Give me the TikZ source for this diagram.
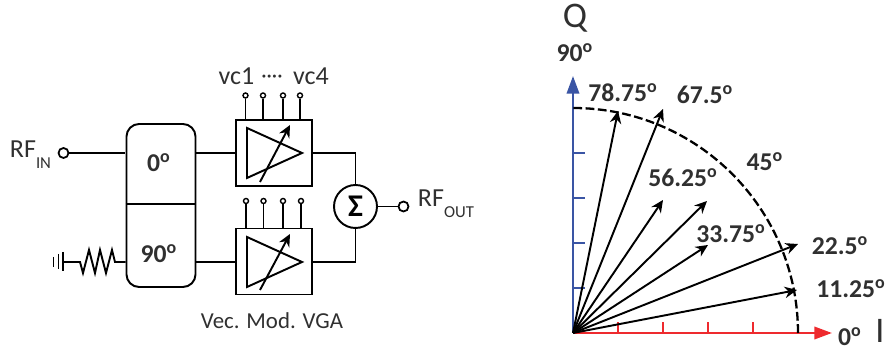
\documentclass[tikz,border=0pt]{standalone}
\usepackage{fontspec}
\setmainfont{Carlito}
\usetikzlibrary{arrows.meta}
\definecolor{txtgray}{HTML}{303030}
\definecolor{axisred}{HTML}{EE2A2E}
\definecolor{axisblue}{HTML}{3A55A4}

\begin{document}
\begin{tikzpicture}[x=0.02cm,y=-0.02cm,line width=1.1pt,>={Stealth[length=7pt,width=6.5pt]},text=txtgray]
\tikzstyle{rflabel}=[font=\fontsize{14.8}{16}\selectfont,inner sep=0pt]
\tikzstyle{deg}=[font=\fontsize{14.6}{16}\selectfont\bfseries,inner sep=0pt]
\tikzstyle{axisname}=[font=\fontsize{20.5}{22}\selectfont,inner sep=0pt]
\tikzstyle{pad}=[circle,draw,fill=white,inner sep=0pt,minimum size=0.2cm,line width=1pt]
\tikzstyle{vcpad}=[circle,draw,fill=white,inner sep=0pt,minimum size=0.1cm,line width=0.8pt]
\tikzstyle{vgabox}=[draw,inner sep=0pt,minimum width=1.52cm,minimum height=1.32cm]
\useasboundingbox (0,0) rectangle (890,350);

% splitter
\node[draw,rounded corners=0.25cm,minimum width=1.38cm,minimum height=3.26cm,inner sep=0pt] (split) at (161,205.5) {};
\draw (split.west |- 0,204) -- (split.east |- 0,204);
\node[deg] (p0) at (159,163) {0\textsuperscript{o}};
\node[deg] (p90) at (159,254) {90\textsuperscript{o}};

% input side
\node[rflabel,anchor=west] (rfin) at (9,155) {RF\raisebox{-0.9ex}{\fontsize{9.5}{10}\selectfont IN}};
\node[pad] (inpad) at (63.5,153) {};
\coordinate (splitin) at (125,153);
\draw (inpad) -- (splitin);
\coordinate (gnd) at (63,262);
\coordinate (splitq) at (split.west |- gnd);
\draw (53.5,257) -- (53.5,267) (58.5,254) -- (58.5,269) (63,252) -- (63,271);
\draw (gnd) -- (80,262) -- (83,273) -- (89,250) -- (95,273) -- (100,250) -- (106,273) -- (112,250) -- (115,262) -- (splitq);

% vga boxes
\node[vgabox] (vgai) at (274,153) {};
\node[vgabox] (vgaq) at (274,261.5) {};
\draw (247,128) -- (247,178) -- (302,153) -- cycle;
\draw (247,237) -- (247,287) -- (302,262) -- cycle;
\draw[->] (260,182) -- (290,125);
\draw[->] (260,290) -- (290,234);
\draw (split.east |- vgai) -- (vgai.west);
\draw (split.east |- 0,262) -- (vgaq.west |- 0,262);

% control pins
\node[vcpad] (ci1) at (245.5,95.5) {};
\node[vcpad] (ci2) at (263,95.5) {};
\node[vcpad] (ci3) at (283,95.5) {};
\node[vcpad] (ci4) at (300,95.5) {};
\node[vcpad] (cq1) at (246,201) {};
\node[vcpad] (cq2) at (263.5,201) {};
\node[vcpad] (cq3) at (283,201) {};
\node[vcpad] (cq4) at (301,201) {};
\draw (ci1) -- (ci1 |- vgai.north);
\draw (ci2) -- (ci2 |- vgai.north);
\draw (ci3) -- (ci3 |- vgai.north);
\draw (ci4) -- (ci4 |- vgai.north);
\draw (cq1) -- (cq1 |- vgaq.north);
\draw (cq2) -- (cq2 |- vgaq.north);
\draw (cq3) -- (cq3 |- vgaq.north);
\draw (cq4) -- (cq4 |- vgaq.north);
\node[rflabel] (vc1) at (236.5,76) {vc1};
\node[rflabel] (vc4) at (311,76) {vc4};
\node[font=\fontsize{12}{13}\selectfont,inner sep=0pt] (vcdots) at (272,79) {····};
\node[font=\fontsize{13}{14}\selectfont,inner sep=0pt] (vgatxt) at (272,321) {Vec. Mod. VGA};

% summer and output
\node[circle,draw,minimum size=0.86cm,inner sep=0pt,font=\fontsize{18}{20}\selectfont\bfseries,text=black] (sum) at (355.5,206.5) {Σ};
\node[pad] (outpad) at (403.5,206.5) {};
\node[rflabel,anchor=west] (rfout) at (417,204) {RF\raisebox{-0.9ex}{\fontsize{9.5}{10}\selectfont OUT}};
\draw (vgai.east) -| (sum.north);
\draw (vgaq.east |- 0,262) -| (sum.south);
\draw (sum) -- (outpad);

% axes
\coordinate (O) at (573,333);
\coordinate (xend) at (832,333);
\coordinate (yend) at (573,76);
\draw[axisred,line width=1.4pt,->,>={Triangle[length=10pt,width=7pt]}] (O) -- (xend);
\draw[axisblue,line width=1.4pt,->,>={Triangle[length=10pt,width=7pt]}] (O) -- (yend);
\draw[axisred] (618,333) -- (618,322) (663,333) -- (663,322) (708,333) -- (708,322) (753,333) -- (753,322);
\draw[axisblue] (573,288) -- (585,288) (573,243) -- (585,243) (573,198) -- (585,198) (573,153) -- (585,153);
\draw[line width=1.3pt,dash pattern=on 5pt off 2pt,black] (798,333) arc (0:-90:225);

% vectors
\coordinate (v11) at (797,290);
\coordinate (v22) at (798,244);
\coordinate (v33) at (708,245);
\coordinate (v45) at (707,201);
\coordinate (v56) at (663,200);
\coordinate (v67) at (663,109);
\coordinate (v78) at (618,111);
\path[->,black] (O) edge (v11)
         edge (v22)
         edge (v33)
         edge (v45)
         edge (v56)
         edge (v67)
         edge (v78);

% angle labels
\node[deg] (l78) at (623,93) {78.75\textsuperscript{o}};
\node[deg] (l67) at (705,95) {67.5\textsuperscript{o}};
\node[deg] (l56) at (683,178) {56.25\textsuperscript{o}};
\node[deg] (l45) at (765,162) {45\textsuperscript{o}};
\node[deg] (l33) at (731,234) {33.75\textsuperscript{o}};
\node[deg] (l22) at (840,246) {22.5\textsuperscript{o}};
\node[deg] (l11) at (851,289) {11.25\textsuperscript{o}};
\node[deg] (l0) at (850,337) {0\textsuperscript{o}};
\node[deg] (l90) at (575,53) {90\textsuperscript{o}};
\node[axisname] (qlabel) at (575,18) {Q};
\node[axisname] (ilabel) at (880,331) {I};
\end{tikzpicture}
\end{document}
